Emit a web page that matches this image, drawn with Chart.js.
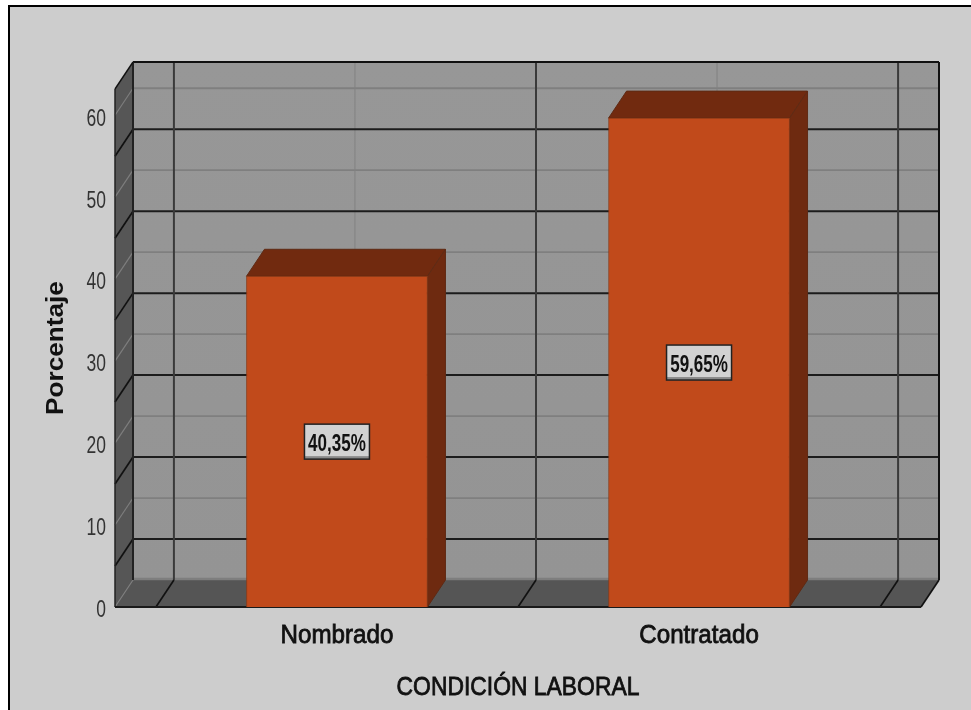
<!DOCTYPE html>
<html><head><meta charset="utf-8">
<style>html,body{margin:0;padding:0;background:#fff}canvas{display:block}</style>
<script src="https://cdn.jsdelivr.net/npm/chart.js@4"></script>
</head><body><canvas id="c" width="971" height="710"></canvas>
<script>
const categories = ['Nombrado', 'Contratado'];
const percentages = [40.35, 59.65];
const categoryPositions = [0, 1];
const yTicks = [0, 10, 20, 30, 40, 50, 60];
const darkHLines = [5, 15, 25, 35, 45, 55];
const darkVLines = [-0.5, 0.5, 1.5];
const yMax = 63.2, xMin = -0.613, xMax = 1.613;
const DX = 18, DY = 27;
const xTitle = 'CONDICIÓN LABORAL', yTitle = 'Porcentaje';

const family = '"Liberation Sans",Arial,sans-serif';
const seg = (ctx, x1, y1, x2, y2, color, w) => {
  ctx.strokeStyle = color; ctx.lineWidth = w; ctx.beginPath();
  ctx.moveTo(x1, y1); ctx.lineTo(x2, y2); ctx.stroke();
};
const poly = (ctx, pts, color, stroke) => {
  ctx.fillStyle = color; ctx.beginPath();
  pts.forEach((p, i) => i ? ctx.lineTo(p[0], p[1]) : ctx.moveTo(p[0], p[1]));
  ctx.closePath(); ctx.fill();
  if (stroke) { ctx.strokeStyle = stroke; ctx.lineWidth = 1; ctx.stroke(); }
};

// The reference text is horizontally condensed; no narrow face is installed.
const canvas = document.getElementById('c');
const rawCtx = canvas.getContext('2d');
const rawFill = rawCtx.fillText.bind(rawCtx);
const textStyle = t => {
  if (/^\d+$/.test(t)) return { sx: 0.76, dy: 4, bold: 0 };
  if (t === xTitle) return { sx: 0.88, dy: -1, bold: 0.8 };
  if (t === yTitle) return { sx: 1.09, dy: 0, bold: 0 };
  if (t.endsWith('%')) return { sx: 0.74, dy: 0, bold: 0 };
  return { sx: 0.93, dy: 0, bold: 0.8 };
};
rawCtx.fillText = function (t, x, y, m) {
  const s = textStyle(String(t));
  rawCtx.save();
  rawCtx.translate(x, y + s.dy);
  rawCtx.scale(s.sx, 1);
  rawFill(t, 0, 0);
  if (s.bold) { rawCtx.strokeStyle = rawCtx.fillStyle; rawCtx.lineWidth = s.bold; rawCtx.strokeText(t, 0, 0); }
  rawCtx.restore();
};

const stage = {
  id: 'stage',
  beforeDraw(chart) {
    const c = chart.ctx;
    c.save();
    c.fillStyle = '#fff'; c.fillRect(0, 0, chart.width, chart.height);
    c.fillStyle = '#cdcdcd'; c.fillRect(9, 6, chart.width - 9, chart.height - 6);
    seg(c, 8, 6, chart.width, 6, '#000', 2);
    seg(c, 9, 5, 9, chart.height, '#000', 2);
    c.restore();
  },
  beforeDatasetsDraw(chart) {
    const c = chart.ctx, { left: L, right: R, top: T, bottom: B } = chart.chartArea;
    const x = chart.scales.x, y = chart.scales.y;
    c.save();
    const back = c.createLinearGradient(0, T - DY, 0, B - DY);
    back.addColorStop(0, '#979797'); back.addColorStop(1, '#949494');
    c.fillStyle = back; c.fillRect(L + DX, T - DY, R - L, B - T);
    poly(c, [[L, T], [L + DX, T - DY], [L + DX, B - DY], [L, B]], '#565656');
    poly(c, [[L, B], [L + DX, B - DY], [R + DX, B - DY], [R, B]], '#555555');
    yTicks.forEach(v => {
      const p = y.getPixelForValue(v);
      if (v > 0) seg(c, L + DX, p - DY, R + DX, p - DY, '#7f7f7f', 1.8);
      seg(c, L, p, L + DX, p - DY, '#7d7d7d', 1.2);
    });
    seg(c, L + DX, B - DY - 1, R + DX, B - DY - 1, '#7e7e7e', 2.5);
    categoryPositions.forEach(v => {
      const p = x.getPixelForValue(v);
      seg(c, p + DX, T - DY, p + DX, B - DY, '#828282', 1);
      seg(c, p, B, p + DX, B - DY, '#777', 1);
    });
    darkHLines.forEach(v => {
      const p = y.getPixelForValue(v);
      seg(c, L + DX, p - DY, R + DX, p - DY, '#1c1c1c', 2);
      seg(c, L, p, L + DX, p - DY, '#111', 1.7);
    });
    darkVLines.forEach(v => {
      const p = x.getPixelForValue(v);
      seg(c, p + DX, T - DY, p + DX, B - DY, '#3a3a3a', 2);
      seg(c, p, B, p + DX, B - DY, '#111', 1.7);
    });
    seg(c, L + DX, T - DY, R + DX, T - DY, '#111', 2);
    seg(c, R + DX, T - DY, R + DX, B - DY, '#111', 2);
    seg(c, L + DX, T - DY, L + DX, B - DY, '#222', 2);
    seg(c, L, T, L, B, '#222', 1.5);
    seg(c, L, T, L + DX, T - DY, '#111', 1.4);
    seg(c, R, B, R + DX, B - DY, '#111', 1.7);
    seg(c, L, B, R, B, '#1a1a1a', 2);
    chart.getDatasetMeta(0).data.forEach(b => {
      const l = b.x - b.width / 2, r = b.x + b.width / 2;
      poly(c, [[l, b.y], [l + DX, b.y - DY], [r + DX, b.y - DY], [r, b.y]], '#712a0f', '#5f2a14');
      poly(c, [[r, b.y], [r + DX, b.y - DY], [r + DX, b.base - DY], [r, b.base]], '#6e2a10', '#5f2a14');
    });
    c.restore();
  },
  afterDatasetsDraw(chart) {
    const c = chart.ctx;
    c.save();
    chart.getDatasetMeta(0).data.forEach((b, i) => {
      const cy = (b.y + b.base) / 2, w = 65, h = 35;
      c.fillStyle = '#d2d2d2'; c.fillRect(b.x - w / 2, cy - h / 2, w, h);
      c.fillStyle = '#8a8a8a'; c.fillRect(b.x - w / 2, cy + h / 2 - 3, w, 3);
      c.strokeStyle = '#222'; c.lineWidth = 1.5; c.strokeRect(b.x - w / 2, cy - h / 2, w, h);
      c.fillStyle = '#111'; c.font = 'bold 23px ' + family;
      c.textAlign = 'center'; c.textBaseline = 'middle';
      c.fillText(percentages[i].toFixed(2).replace('.', ',') + '%', b.x, cy + 3);
    });
    c.restore();
  }
};

new Chart(canvas, {
  type: 'bar',
  data: {
    datasets: [{
      data: categoryPositions.map((p, i) => ({ x: p, y: percentages[i] })),
      backgroundColor: '#c14a1b',
      borderColor: '#8f3b17',
      borderWidth: 1,
      barThickness: 181
    }]
  },
  options: {
    responsive: false,
    animation: false,
    events: [],
    layout: { padding: { top: 89, right: 50, left: 0, bottom: 0 } },
    plugins: { legend: { display: false }, tooltip: { enabled: false }, title: { display: false } },
    scales: {
      x: {
        type: 'linear', min: xMin, max: xMax, offset: false,
        grid: { display: false }, border: { display: false },
        afterFit(s) { s.height = 103; },
        ticks: {
          stepSize: 1, includeBounds: false, autoSkip: false, maxRotation: 0, padding: 5,
          color: '#111', font: { family, size: 26 },
          callback: v => categories[v]
        },
        title: { display: true, text: xTitle, color: '#111',
          font: { family, size: 26 }, padding: { top: 0, bottom: 6 } }
      },
      y: {
        min: 0, max: yMax,
        grid: { display: false }, border: { display: false },
        afterFit(s) { s.width = 115; },
        afterBuildTicks(s) { s.ticks = yTicks.map(value => ({ value })); },
        ticks: { padding: 1, color: '#333', font: { family, size: 23 } },
        title: { display: true, text: yTitle, color: '#111',
          font: { family, weight: 'bold', size: 24 }, padding: { top: 42, bottom: 0 } }
      }
    }
  },
  plugins: [stage]
});
</script></body></html>
